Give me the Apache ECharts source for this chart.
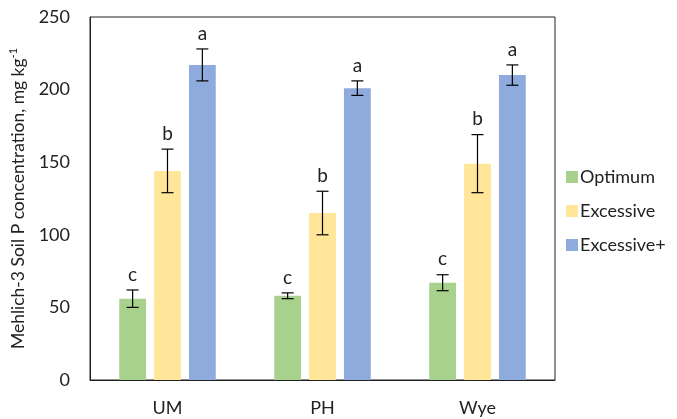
<!DOCTYPE html>
<html><head><meta charset="utf-8">
<script src="https://cdn.jsdelivr.net/npm/echarts@6/dist/echarts.min.js"></script>
<style>html,body{margin:0;padding:0;background:#fff}#c{width:677px;height:419px}</style>
</head><body><div id="c"></div>
<script>
const categories = ['UM', 'PH', 'Wye'];
const seriesNames = ['Optimum', 'Excessive', 'Excessive+'];
const optimum = [56, 58, 67];
const excessive = [144, 115, 149];
const excessivePlus = [217, 201, 210];
const optimumErr = [6, 2, 5.5];
const excessiveErr = [15, 15, 20];
const excessivePlusErr = [11, 5, 7];
const optimumLetters = ['c', 'c', 'c'];
const excessiveLetters = ['b', 'b', 'b'];
const excessivePlusLetters = ['a', 'a', 'a'];
const yTicks = [0, 50, 100, 150, 200, 250];

const values = [optimum, excessive, excessivePlus];
const errs = [optimumErr, excessiveErr, excessivePlusErr];
const letters = [optimumLetters, excessiveLetters, excessivePlusLetters];
const colors = ['#A9D18E', '#FFE699', '#8FAADC'];
const FONT = 'Lato';
const BAR_FRAC = 0.173, GAP_FRAC = 0.3;

const chart = echarts.init(document.getElementById('c'));
const series = [];
seriesNames.forEach((name, i) => {
  series.push({
    name, type: 'bar', data: values[i], barWidth: (BAR_FRAC * 100) + '%', barGap: (GAP_FRAC * 100) + '%',
    itemStyle: { color: colors[i] }
  });
});
seriesNames.forEach((name, i) => {
  series.push({
    type: 'custom', name: name + '_err', silent: true, z: 10,
    data: categories.map((c, k) => [k, values[i][k], errs[i][k], letters[i][k]]),
    renderItem: function (params, api) {
      const k = api.value(0), v = api.value(1), e = api.value(2);
      const band = api.size([1, 0])[0];
      const bw = band * BAR_FRAC, gap = bw * GAP_FRAC;
      const cx = api.coord([k, 0])[0] + (i - 1) * (bw + gap);
      const yt = api.coord([k, v + e])[1];
      const yb = api.coord([k, v - e])[1];
      const cap = 6;
      const st = { stroke: '#000', lineWidth: 1.2 };
      const letter = letters[i][k];
      return {
        type: 'group', children: [
          { type: 'line', shape: { x1: cx, y1: yt, x2: cx, y2: yb }, style: st },
          { type: 'line', shape: { x1: cx - cap, y1: yt, x2: cx + cap, y2: yt }, style: st },
          { type: 'line', shape: { x1: cx - cap, y1: yb, x2: cx + cap, y2: yb }, style: st },
          { type: 'text', x: cx, y: yt - 6, style: { text: letter, fontSize: 19, fontFamily: FONT, fill: '#222', align: 'center', verticalAlign: 'bottom' } }
        ]
      };
    }
  });
});

chart.setOption({
  animation: false,
  textStyle: { fontFamily: FONT },
  grid: { left: 88, right: 122, top: 17, bottom: 39, show: true, borderColor: '#222', borderWidth: 1, backgroundColor: 'transparent' },
  legend: {
    data: seriesNames.map(n => ({ name: n, icon: 'rect' })), orient: 'vertical', left: 566, top: 168, padding: 0, itemWidth: 12, itemHeight: 12, itemGap: 16,
    textStyle: { fontSize: 18, fontFamily: FONT, color: '#222', padding: [0, 0, 0, -3] }
  },
  xAxis: {
    type: 'category', data: categories,
    axisLine: { lineStyle: { color: '#222', width: 1 } }, axisTick: { show: false },
    axisLabel: { fontSize: 18, fontFamily: FONT, color: '#222', margin: 19 }
  },
  yAxis: {
    type: 'value', min: 0, max: 250, interval: 50,
    axisLine: { show: true, lineStyle: { color: '#222', width: 1 } }, axisTick: { show: false }, splitLine: { show: false },
    axisLabel: { fontSize: 18, fontFamily: FONT, color: '#222', margin: 20, formatter: v => yTicks.includes(v) ? String(v) : '' },
    name: '{a|Mehlich-3 Soil P concentration, mg kg}{s|-1}', nameLocation: 'middle', nameGap: 61, nameRotate: 90,
    nameTextStyle: { rich: { a: { fontSize: 17.5, fontFamily: FONT, color: '#222' }, s: { fontSize: 11, fontFamily: FONT, color: '#222', padding: [0, 0, 10, 0] } } }
  },
  series
});
</script></body></html>
